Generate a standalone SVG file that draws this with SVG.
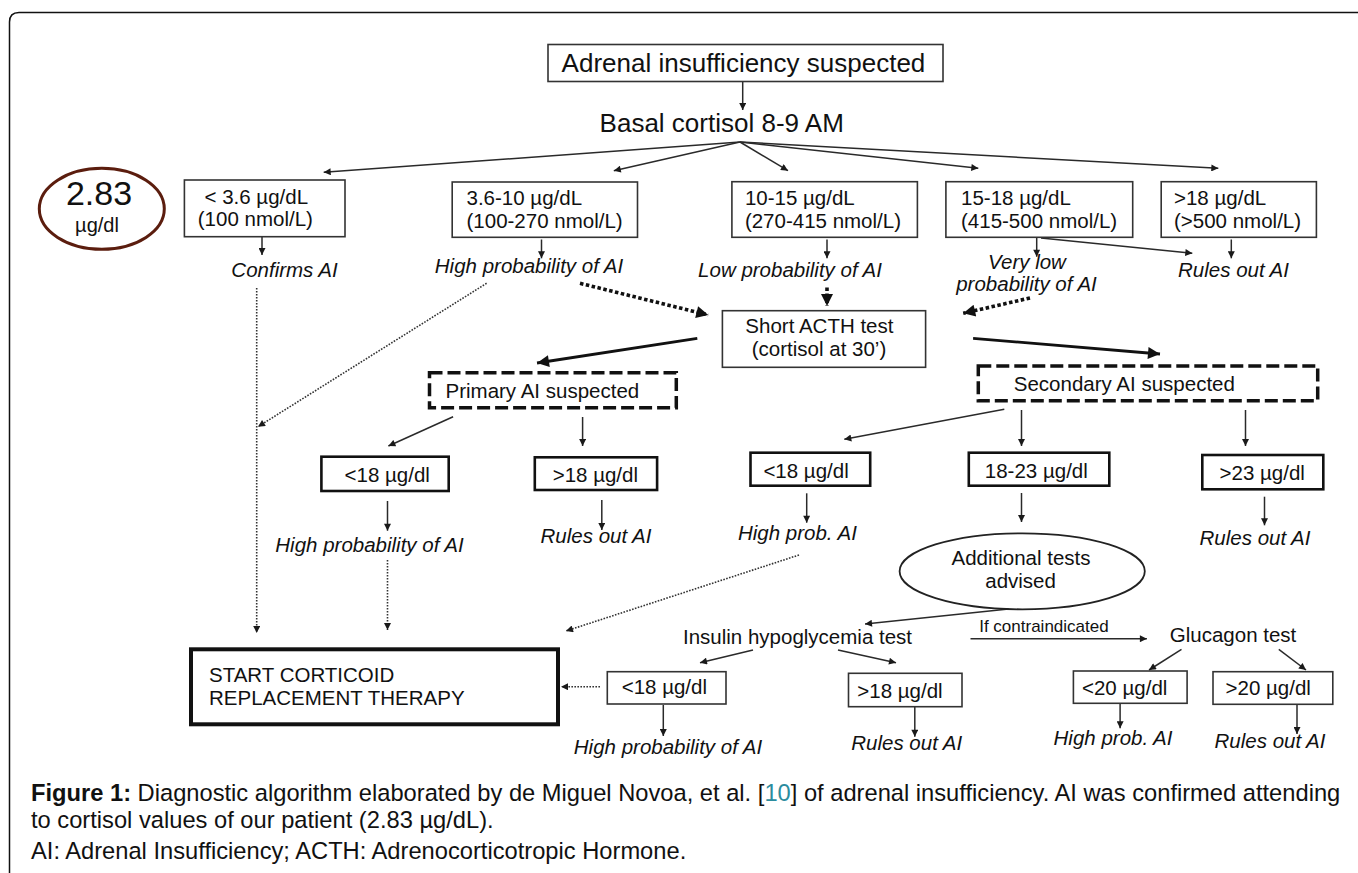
<svg xmlns="http://www.w3.org/2000/svg" width="1358" height="873" viewBox="0 0 1358 873">
<style>
text{font-family:"Liberation Sans",Arial,sans-serif;fill:#111;font-size:20.5px}
.big{font-size:26px}
.it{font-style:italic}
.m{text-anchor:middle}
.sm{font-size:17px}
.cap{font-size:23.7px}
.box{fill:#fff;stroke:#333;stroke-width:1.6}
.boxk{fill:#fff;stroke:#111;stroke-width:2.6}
.dash{fill:none;stroke:#111;stroke-width:3.5;stroke-dasharray:13 5}
.ln{fill:none;stroke:#2a2a2a;stroke-width:1.5}
.lnb{fill:none;stroke:#111;stroke-width:2.8}
.dot{fill:none;stroke:#333;stroke-width:1.6;stroke-dasharray:1.6 1.4}
.dotb{fill:none;stroke:#111;stroke-width:3.6;stroke-dasharray:3.5 2.5}
</style>
<defs>
<marker id="ah" viewBox="0 0 10 10" refX="10" refY="5" markerWidth="9" markerHeight="7" markerUnits="userSpaceOnUse" orient="auto"><path d="M0,0 L10,5 L0,10 z" fill="#1a1a1a"/></marker>
<marker id="ahb" viewBox="0 0 10 10" refX="10" refY="5" markerWidth="15" markerHeight="12" markerUnits="userSpaceOnUse" orient="auto"><path d="M0,0 L10,5 L0,10 z" fill="#111"/></marker>
</defs>
<rect x="0" y="0" width="1358" height="873" fill="#fff"/>
<path d="M9.5,873 V22 Q9.5,12.5 19,12.5 H1358" fill="none" stroke="#111" stroke-width="1.5"/>

<g id="connectors">
<path class="ln" d="M742.7,82 V110" marker-end="url(#ah)"/>
<path class="ln" d="M740,142 L323.7,172.3" marker-end="url(#ah)"/>
<path class="ln" d="M740,142 L613.8,170.7" marker-end="url(#ah)"/>
<path class="ln" d="M740,142 L788,170.7" marker-end="url(#ah)"/>
<path class="ln" d="M740,142 L978.3,168.3" marker-end="url(#ah)"/>
<path class="ln" d="M740,142 L1218.3,168.3" marker-end="url(#ah)"/>
<path class="ln" d="M262,237 V255" marker-end="url(#ah)"/>
<path class="ln" d="M541.5,239.5 V258.3" marker-end="url(#ah)"/>
<path class="ln" d="M827,239.5 V258.3" marker-end="url(#ah)"/>
<path class="ln" d="M1036.7,238 V256.7" marker-end="url(#ah)"/>
<path class="ln" d="M1231.3,239.5 V258.3" marker-end="url(#ah)"/>
<path class="ln" d="M1041,238 L1192.3,253.3" marker-end="url(#ah)"/>
<path class="dot" d="M256.7,288 V633" marker-end="url(#ah)"/>
<path class="dot" d="M486.6,283.3 L258,426.7" marker-end="url(#ah)"/>
<path class="dotb" d="M580,283.3 L708.3,315" marker-end="url(#ahb)"/>
<path class="dotb" d="M827,287.5 V306" marker-end="url(#ahb)"/>
<path class="dotb" d="M1030,298 L963.2,313.3" marker-end="url(#ahb)"/>
<path class="lnb" d="M697.3,338.3 L537,363" marker-end="url(#ahb)"/>
<path class="lnb" d="M973.1,338.3 L1160,354" marker-end="url(#ahb)"/>
<path class="ln" d="M453.1,416.7 L388.4,446" marker-end="url(#ah)"/>
<path class="ln" d="M582.6,417 V446" marker-end="url(#ah)"/>
<path class="ln" d="M387.5,501 V530.7" marker-end="url(#ah)"/>
<path class="ln" d="M601.8,500 V530" marker-end="url(#ah)"/>
<path class="dot" d="M387.5,560 V630" marker-end="url(#ah)"/>
<path class="ln" d="M1004.3,409.3 L844.3,439.3" marker-end="url(#ah)"/>
<path class="ln" d="M1021.5,410 V446" marker-end="url(#ah)"/>
<path class="ln" d="M1245.5,410 V446" marker-end="url(#ah)"/>
<path class="ln" d="M806.7,493.3 V522.7" marker-end="url(#ah)"/>
<path class="ln" d="M1021.5,493 V522" marker-end="url(#ah)"/>
<path class="ln" d="M1264.5,496.7 V525.3" marker-end="url(#ah)"/>
<path class="dot" d="M799,555 L566,631" marker-end="url(#ah)"/>
<path class="ln" d="M1008.6,609 L865,624" marker-end="url(#ah)"/>
<path class="ln" d="M970.5,638.7 H1146.9" marker-end="url(#ah)"/>
<path class="ln" d="M753,650 L700,662.7" marker-end="url(#ah)"/>
<path class="ln" d="M838,650 L896,662.7" marker-end="url(#ah)"/>
<path class="ln" d="M1181.5,649.3 L1149,670" marker-end="url(#ah)"/>
<path class="ln" d="M1278.8,649.3 L1306,670" marker-end="url(#ah)"/>
<path class="ln" d="M663.3,705 V736" marker-end="url(#ah)"/>
<path class="ln" d="M914.8,706.7 V736.7" marker-end="url(#ah)"/>
<path class="ln" d="M1120.1,703.3 V728.3" marker-end="url(#ah)"/>
<path class="ln" d="M1297,704.3 V734" marker-end="url(#ah)"/>
<path class="dot" d="M600,686.7 H561" marker-end="url(#ah)"/>
</g>

<g id="n-start">
<rect class="box" x="548" y="44.5" width="395" height="37" stroke-width="2"/>
<text class="big" x="561.6" y="71.7">Adrenal insufficiency suspected</text>
</g>
<g id="n-basal">
<text class="big" x="599.6" y="131.7">Basal cortisol 8-9 AM</text>
</g>
<g id="n-patient">
<ellipse cx="101.8" cy="208.8" rx="62.5" ry="40.5" fill="#fff" stroke="#5b1d0e" stroke-width="3"/>
<text class="m" x="99" y="205" style="font-size:34px">2.83</text>
<text class="m" x="97" y="231.7" style="font-size:20px">µg/dl</text>
</g>
<g id="n-b1">
<rect class="box" x="184.4" y="180" width="160.6" height="56.7"/>
<text x="204.5" y="203.5">&lt; 3.6 µg/dL</text>
<text x="197.8" y="226">(100 nmol/L)</text>
</g>
<g id="n-b2">
<rect class="box" x="452.2" y="182" width="185.3" height="55.3"/>
<text x="466.5" y="205">3.6-10 µg/dL</text>
<text x="466.5" y="227.5">(100-270 nmol/L)</text>
</g>
<g id="n-b3">
<rect class="box" x="731.9" y="181.7" width="185.5" height="55.6"/>
<text x="744.9" y="205">10-15 µg/dL</text>
<text x="744.9" y="227.5">(270-415 nmol/L)</text>
</g>
<g id="n-b4">
<rect class="box" x="945.9" y="181.7" width="186.8" height="55.6"/>
<text x="961" y="205">15-18 µg/dL</text>
<text x="961" y="227.5">(415-500 nmol/L)</text>
</g>
<g id="n-b5">
<rect class="box" x="1161.2" y="181.7" width="155.2" height="55.6"/>
<text x="1174" y="205">&gt;18 µg/dL</text>
<text x="1174" y="227.5">(&gt;500 nmol/L)</text>
</g>
<g id="n-o1"><text class="it m" x="284.5" y="276.7">Confirms AI</text></g>
<g id="n-o2"><text class="it m" x="529" y="273.3">High probability of AI</text></g>
<g id="n-o3"><text class="it m" x="790" y="276.7">Low probability of AI</text></g>
<g id="n-o4"><text class="it m" x="1027" y="268.5">Very low</text><text class="it m" x="1026.5" y="291">probability of AI</text></g>
<g id="n-o5"><text class="it m" x="1233.5" y="276.7">Rules out AI</text></g>
<g id="n-acth">
<rect class="box" x="722.4" y="310.7" width="203.2" height="56.6"/>
<text class="m" x="819.4" y="333">Short ACTH test</text>
<text class="m" x="819" y="355.5">(cortisol at 30’)</text>
</g>
<g id="n-primary">
<rect class="dash" x="429.5" y="372.7" width="246.8" height="35"/>
<text x="445.5" y="398.3">Primary AI suspected</text>
</g>
<g id="n-secondary">
<rect class="dash" x="978.3" y="366" width="339.4" height="34.7"/>
<text x="1013.8" y="390.7">Secondary AI suspected</text>
</g>
<g id="n-p1">
<rect class="boxk" x="321.4" y="456.7" width="127.3" height="34.3"/>
<text x="344.6" y="481.7">&lt;18 µg/dl</text>
</g>
<g id="n-p2">
<rect class="boxk" x="534.8" y="457.3" width="122.3" height="32.7"/>
<text x="552.7" y="481.7">&gt;18 µg/dl</text>
</g>
<g id="n-p1o"><text class="it m" x="369.5" y="551.7">High probability of AI</text></g>
<g id="n-p2o"><text class="it m" x="596" y="543.3">Rules out AI</text></g>
<g id="n-s1">
<rect class="boxk" x="750.5" y="452.7" width="119.7" height="33"/>
<text x="763.4" y="478.3">&lt;18 µg/dl</text>
</g>
<g id="n-s2">
<rect class="boxk" x="968.8" y="452.7" width="140.5" height="33"/>
<text x="984.8" y="478.3">18-23 µg/dl</text>
</g>
<g id="n-s3">
<rect class="boxk" x="1202.3" y="455" width="121" height="34.3"/>
<text x="1219.6" y="479.5">&gt;23 µg/dl</text>
</g>
<g id="n-s1o"><text class="it m" x="797.4" y="540">High prob. AI</text></g>
<g id="n-s3o"><text class="it m" x="1255" y="545">Rules out AI</text></g>
<g id="n-additional">
<ellipse cx="1022.2" cy="571.3" rx="122.6" ry="38" fill="none" stroke="#222" stroke-width="1.8"/>
<text class="m" x="1021" y="564.5">Additional tests</text>
<text class="m" x="1020.6" y="587.5">advised</text>
</g>
<g id="n-insulin"><text x="683" y="644">Insulin hypoglycemia test</text></g>
<g id="n-contra"><text class="sm" x="979.2" y="631.7">If contraindicated</text></g>
<g id="n-glucagon"><text x="1169.8" y="641.7">Glucagon test</text></g>
<g id="n-therapy">
<rect x="191" y="649.3" width="367" height="75" fill="#fff" stroke="#111" stroke-width="4"/>
<text x="209" y="682">START CORTICOID</text>
<text x="209" y="705">REPLACEMENT THERAPY</text>
</g>
<g id="n-i1">
<rect class="box" x="607.3" y="671.7" width="118.7" height="32.3"/>
<text x="621.7" y="694">&lt;18 µg/dl</text>
</g>
<g id="n-i2">
<rect class="box" x="848.5" y="673.3" width="113.5" height="33.4"/>
<text x="857.3" y="698.3">&gt;18 µg/dl</text>
</g>
<g id="n-g1">
<rect class="box" x="1073.4" y="671" width="113.7" height="32.3"/>
<text x="1082" y="695">&lt;20 µg/dl</text>
</g>
<g id="n-g2">
<rect class="box" x="1213" y="671.7" width="119.8" height="32.6"/>
<text x="1225.6" y="695">&gt;20 µg/dl</text>
</g>
<g id="n-i1o"><text class="it m" x="668" y="754">High probability of AI</text></g>
<g id="n-i2o"><text class="it m" x="906.7" y="750">Rules out AI</text></g>
<g id="n-g1o"><text class="it m" x="1113" y="745">High prob. AI</text></g>
<g id="n-g2o"><text class="it m" x="1270" y="748.3">Rules out AI</text></g>

<g id="caption">
<text class="cap" x="31" y="801"><tspan font-weight="bold">Figure 1:</tspan> Diagnostic algorithm elaborated by de Miguel Novoa, et al. [<tspan fill="#2b8c9e">10</tspan>] of adrenal insufficiency. AI was confirmed attending</text>
<text class="cap" x="31" y="828">to cortisol values of our patient (2.83 µg/dL).</text>
<text class="cap" x="31" y="859">AI: Adrenal Insufficiency; ACTH: Adrenocorticotropic Hormone.</text>
</g>
</svg>
